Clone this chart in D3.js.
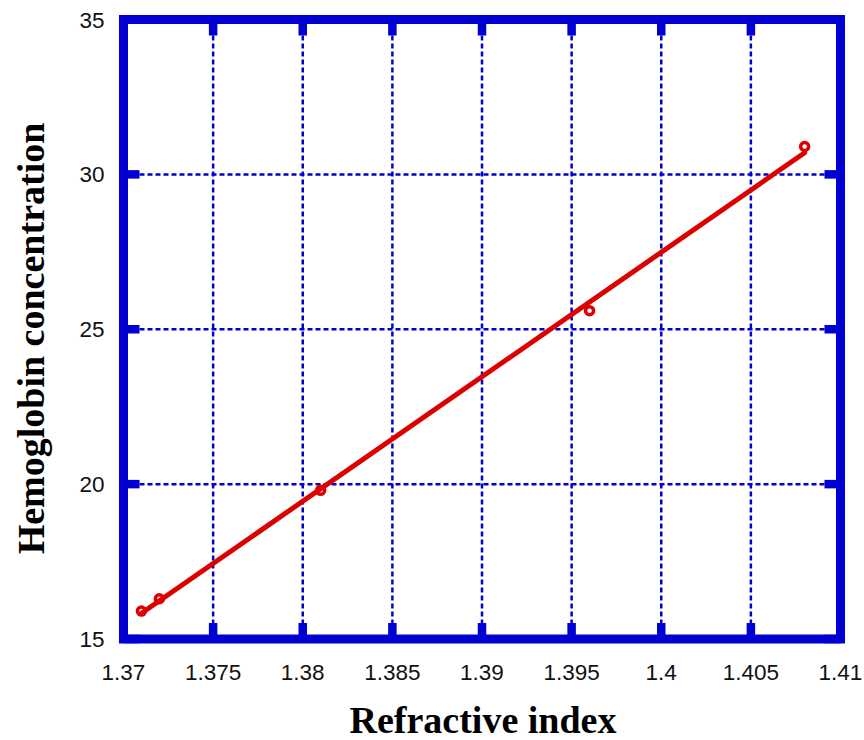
<!DOCTYPE html>
<html>
<head>
<meta charset="utf-8">
<script src="https://cdn.jsdelivr.net/npm/d3@7"></script>
<style>
  html, body { margin: 0; padding: 0; background: #fff; }
  svg { display: block; }
</style>
</head>
<body>
<script>
// Measured samples: refractive index vs hemoglobin concentration
const refractiveIndex = [1.371, 1.372, 1.381, 1.396, 1.408];
const hemoglobin = [15.9, 16.3, 19.8, 25.6, 30.9];

// Fitted straight line, endpoints
const fitX = [1.371, 1.408];
const fitY = [15.83, 30.70];

// Axis ticks
const xTicks = [1.37, 1.375, 1.38, 1.385, 1.39, 1.395, 1.4, 1.405, 1.41];
const xTickLabels = ["1.37", "1.375", "1.38", "1.385", "1.39", "1.395", "1.4", "1.405", "1.41"];
const yTicks = [15, 20, 25, 30, 35];
const yTickLabels = ["15", "20", "25", "30", "35"];

const W = 864, H = 740;
const plotL = 123.5, plotR = 840.5, plotT = 19.5, plotB = 639;
const blue = "#0000d2";
const red = "#dd0000";

const svg = d3.select("body").append("svg")
  .attr("width", W).attr("height", H);

const x = d3.scaleLinear().domain([1.37, 1.41]).range([plotL, plotR]);
const y = d3.scaleLinear().domain([15, 35]).range([plotB, plotT]);

// Dotted grid at interior ticks
const g = svg.append("g");
g.selectAll("line.vg").data(xTicks.slice(1, -1)).join("line")
  .attr("x1", d => x(d)).attr("x2", d => x(d))
  .attr("y1", plotT).attr("y2", plotB)
  .attr("stroke", blue).attr("stroke-width", 2.5)
  .attr("stroke-dasharray", "5,3");
g.selectAll("line.hg").data(yTicks.slice(1, -1)).join("line")
  .attr("x1", plotL).attr("x2", plotR)
  .attr("y1", d => y(d)).attr("y2", d => y(d))
  .attr("stroke", blue).attr("stroke-width", 2.5)
  .attr("stroke-dasharray", "5,3");

// Inward tick marks on all four sides
const tl = 16, tw = 8.5;
const ticks = svg.append("g").attr("fill", blue);
xTicks.forEach(v => {
  ticks.append("rect").attr("x", x(v) - tw / 2).attr("y", plotB - tl).attr("width", tw).attr("height", tl);
  ticks.append("rect").attr("x", x(v) - tw / 2).attr("y", plotT).attr("width", tw).attr("height", tl);
});
yTicks.forEach(v => {
  ticks.append("rect").attr("x", plotL).attr("y", y(v) - tw / 2).attr("width", tl).attr("height", tw);
  ticks.append("rect").attr("x", plotR - tl).attr("y", y(v) - tw / 2).attr("width", tl).attr("height", tw);
});

// Thick frame
svg.append("rect")
  .attr("x", plotL).attr("y", plotT)
  .attr("width", plotR - plotL).attr("height", plotB - plotT)
  .attr("fill", "none").attr("stroke", blue).attr("stroke-width", 9)
  .attr("stroke-linejoin", "miter");

// Data markers
svg.append("g").selectAll("circle").data(refractiveIndex).join("circle")
  .attr("cx", d => x(d))
  .attr("cy", (d, i) => y(hemoglobin[i]))
  .attr("r", 4)
  .attr("fill", "#fff")
  .attr("stroke", red).attr("stroke-width", 3.5);

// Fit line
svg.append("path")
  .datum(fitX.map((v, i) => [v, fitY[i]]))
  .attr("d", d3.line().x(d => x(d[0])).y(d => y(d[1])))
  .attr("fill", "none").attr("stroke", red).attr("stroke-width", 5)
  .attr("stroke-linecap", "round");

// Tick labels
const tickFont = "'Liberation Sans', Arial, sans-serif";
svg.append("g").selectAll("text").data(xTicks).join("text")
  .attr("x", d => x(d)).attr("y", 680)
  .attr("text-anchor", "middle")
  .attr("font-family", tickFont).attr("font-size", 22.5).attr("fill", "#111")
  .text((d, i) => xTickLabels[i]);
svg.append("g").selectAll("text").data(yTicks).join("text")
  .attr("x", 104.5).attr("y", d => y(d))
  .attr("dy", "0.36em")
  .attr("text-anchor", "end")
  .attr("font-family", tickFont).attr("font-size", 22.5).attr("fill", "#111")
  .text((d, i) => yTickLabels[i]);

// Axis titles
const titleFont = "'Liberation Serif', 'Times New Roman', serif";
svg.append("text")
  .attr("x", 483).attr("y", 733)
  .attr("text-anchor", "middle")
  .attr("font-family", titleFont).attr("font-weight", "bold").attr("font-size", 38)
  .text("Refractive index");
svg.append("text")
  .attr("transform", "translate(44,338.5) rotate(-90)")
  .attr("text-anchor", "middle")
  .attr("font-family", titleFont).attr("font-weight", "bold").attr("font-size", 38)
  .text("Hemoglobin concentration");
</script>
</body>
</html>
